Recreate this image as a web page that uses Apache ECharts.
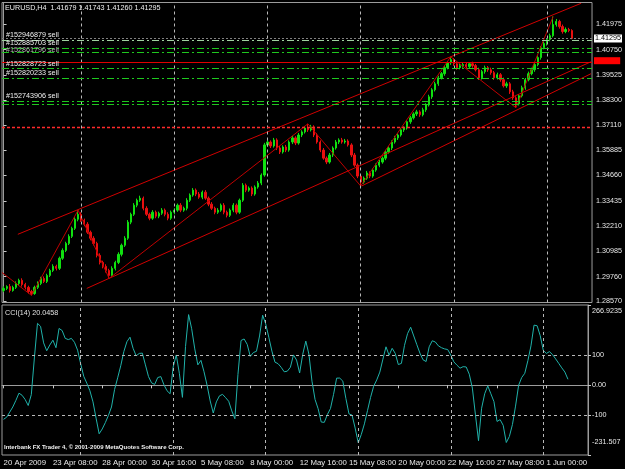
<!DOCTYPE html>
<html>
<head>
<meta charset="utf-8">
<script src="https://cdn.jsdelivr.net/npm/echarts@6/dist/echarts.min.js"></script>
<style>
html, body { margin: 0; padding: 0; background: #000; }
#chart { width: 625px; height: 469px; }
</style>
</head>
<body>
<div id="chart"></div>
<script>
const FONT = "'Liberation Sans', Arial, sans-serif"
const FS = 7.2

// H4 bars, 20 Apr 2009 -> 2 Jun 2009 (slots past the last bar stay empty)
const BAR_COUNT = 190
const LABEL_STEP = 16
const TIME_LABELS = ['20 Apr 2009', '23 Apr 08:00', '28 Apr 00:00', '30 Apr 16:00', '5 May 08:00', '8 May 00:00',
  '12 May 16:00', '15 May 08:00', '20 May 00:00', '22 May 16:00', '27 May 08:00', '1 Jun 00:00']
const GRID_BARS = [25, 55, 85, 115, 145, 175]

const OPEN = [
  1.2909,1.2919,1.2928,1.2909,1.2924,1.2943,1.2958,1.2938,1.2924,1.2904,
  1.2894,1.2924,1.2943,1.2967,1.2953,1.2982,1.3006,1.3026,1.3016,1.3065,
  1.3103,1.3137,1.3171,1.3210,1.3254,1.3278,1.3249,1.3230,1.3191,1.3162,
  1.3137,1.3079,1.3045,1.3026,1.3006,1.2982,1.3016,1.3045,1.3084,1.3128,
  1.3162,1.3240,1.3278,1.3322,1.3346,1.3356,1.3307,1.3278,1.3259,1.3288,
  1.3269,1.3283,1.3298,1.3278,1.3259,1.3288,1.3298,1.3322,1.3298,1.3307,
  1.3346,1.3371,1.3395,1.3376,1.3361,1.3385,1.3356,1.3327,1.3307,1.3288,
  1.3298,1.3322,1.3288,1.3273,1.3298,1.3322,1.3288,1.3346,1.3419,1.3395,
  1.3405,1.3376,1.3410,1.3429,1.3468,1.3614,1.3628,1.3609,1.3638,1.3599,
  1.3580,1.3604,1.3589,1.3628,1.3648,1.3623,1.3662,1.3677,1.3696,1.3687,
  1.3701,1.3662,1.3628,1.3589,1.3550,1.3531,1.3565,1.3599,1.3628,1.3638,
  1.3628,1.3633,1.3614,1.3565,1.3516,1.3463,1.3434,1.3453,1.3478,1.3463,
  1.3492,1.3516,1.3531,1.3550,1.3580,1.3599,1.3628,1.3648,1.3662,1.3687,
  1.3696,1.3726,1.3745,1.3764,1.3774,1.3760,1.3784,1.3808,1.3847,1.3881,
  1.3910,1.3939,1.3959,1.3988,1.4012,1.4027,1.4007,1.3988,1.3998,1.4003,
  1.3993,1.4007,1.3998,1.3978,1.3939,1.3969,1.3988,1.3978,1.3964,1.3939,
  1.3954,1.3930,1.3900,1.3910,1.3871,1.3842,1.3813,1.3852,1.3891,1.3930,
  1.3959,1.3978,1.4003,1.4037,1.4085,1.4105,1.4124,1.4143,1.4197,1.4212,
  1.4187,1.4163,1.4173,1.41679
]
const CLOSE = [
  1.2919,1.2928,1.2909,1.2924,1.2943,1.2958,1.2938,1.2924,1.2904,1.2894,
  1.2924,1.2943,1.2967,1.2953,1.2982,1.3006,1.3026,1.3016,1.3065,1.3103,
  1.3137,1.3171,1.3210,1.3254,1.3278,1.3249,1.3230,1.3191,1.3162,1.3137,
  1.3079,1.3045,1.3026,1.3006,1.2982,1.3016,1.3045,1.3084,1.3128,1.3162,
  1.3240,1.3278,1.3322,1.3346,1.3356,1.3307,1.3278,1.3259,1.3288,1.3269,
  1.3283,1.3298,1.3278,1.3259,1.3288,1.3298,1.3322,1.3298,1.3307,1.3346,
  1.3371,1.3395,1.3376,1.3361,1.3385,1.3356,1.3327,1.3307,1.3288,1.3298,
  1.3322,1.3288,1.3273,1.3298,1.3322,1.3288,1.3346,1.3419,1.3395,1.3405,
  1.3376,1.3410,1.3429,1.3468,1.3614,1.3628,1.3609,1.3638,1.3599,1.3580,
  1.3604,1.3589,1.3628,1.3648,1.3623,1.3662,1.3677,1.3696,1.3687,1.3701,
  1.3662,1.3628,1.3589,1.3550,1.3531,1.3565,1.3599,1.3628,1.3638,1.3628,
  1.3633,1.3614,1.3565,1.3516,1.3463,1.3434,1.3453,1.3478,1.3463,1.3492,
  1.3516,1.3531,1.3550,1.3580,1.3599,1.3628,1.3648,1.3662,1.3687,1.3696,
  1.3726,1.3745,1.3764,1.3774,1.3760,1.3784,1.3808,1.3847,1.3881,1.3910,
  1.3939,1.3959,1.3988,1.4012,1.4027,1.4007,1.3988,1.3998,1.4003,1.3993,
  1.4007,1.3998,1.3978,1.3939,1.3969,1.3988,1.3978,1.3964,1.3939,1.3954,
  1.3930,1.3900,1.3910,1.3871,1.3842,1.3813,1.3852,1.3891,1.3930,1.3959,
  1.3978,1.4003,1.4037,1.4085,1.4105,1.4124,1.4143,1.4197,1.4212,1.4187,
  1.4163,1.4173,1.4168,1.41295
]
const HIGH = [
  1.2929,1.2934,1.2940,1.2932,1.2953,1.2966,1.2968,1.2946,1.2932,1.2912,
  1.2932,1.2953,1.2975,1.2977,1.2990,1.3014,1.3036,1.3034,1.3073,1.3113,
  1.3145,1.3181,1.3218,1.3264,1.3298,1.3288,1.3257,1.3240,1.3199,1.3172,
  1.3145,1.3089,1.3053,1.3036,1.3014,1.3026,1.3053,1.3094,1.3136,1.3172,
  1.3250,1.3286,1.3332,1.3354,1.3368,1.3364,1.3317,1.3286,1.3298,1.3296,
  1.3291,1.3308,1.3306,1.3288,1.3296,1.3308,1.3330,1.3332,1.3315,1.3356,
  1.3379,1.3405,1.3403,1.3386,1.3393,1.3395,1.3364,1.3337,1.3315,1.3308,
  1.3330,1.3332,1.3296,1.3306,1.3332,1.3330,1.3354,1.3429,1.3427,1.3413,
  1.3413,1.3418,1.3439,1.3476,1.3624,1.3638,1.3636,1.3648,1.3646,1.3609,
  1.3612,1.3614,1.3636,1.3658,1.3656,1.3672,1.3685,1.3706,1.3716,1.3711,
  1.3709,1.3672,1.3636,1.3599,1.3558,1.3575,1.3607,1.3638,1.3646,1.3648,
  1.3643,1.3641,1.3622,1.3575,1.3524,1.3471,1.3461,1.3488,1.3486,1.3500,
  1.3524,1.3541,1.3558,1.3590,1.3607,1.3636,1.3658,1.3670,1.3697,1.3704,
  1.3734,1.3755,1.3772,1.3784,1.3782,1.3794,1.3816,1.3857,1.3889,1.3920,
  1.3949,1.3967,1.3998,1.4020,1.4041,1.4035,1.4017,1.4006,1.4013,1.4011,
  1.4015,1.4017,1.4006,1.3988,1.3977,1.3998,1.3996,1.3988,1.3972,1.3964,
  1.3962,1.3940,1.3920,1.3918,1.3881,1.3850,1.3860,1.3901,1.3938,1.3969,
  1.3988,1.4011,1.4047,1.4093,1.4115,1.4132,1.4153,1.4236,1.4224,1.4220,
  1.4197,1.4183,1.4181,1.41743
]
const LOW = [
  1.2901,1.2911,1.2899,1.2903,1.2916,1.2935,1.2928,1.2914,1.2894,1.2885,
  1.2888,1.2916,1.2935,1.2945,1.2945,1.2974,1.2998,1.3006,1.3008,1.3057,
  1.3095,1.3129,1.3163,1.3202,1.3244,1.3241,1.3220,1.3183,1.3152,1.3127,
  1.3069,1.3035,1.3016,1.2996,1.2967,1.2974,1.3006,1.3037,1.3074,1.3120,
  1.3154,1.3230,1.3270,1.3312,1.3338,1.3297,1.3270,1.3249,1.3251,1.3259,
  1.3259,1.3275,1.3268,1.3249,1.3251,1.3278,1.3290,1.3288,1.3290,1.3297,
  1.3338,1.3363,1.3366,1.3353,1.3351,1.3348,1.3317,1.3299,1.3278,1.3280,
  1.3290,1.3278,1.3263,1.3265,1.3288,1.3278,1.3280,1.3338,1.3385,1.3387,
  1.3366,1.3368,1.3402,1.3419,1.3460,1.3604,1.3599,1.3601,1.3589,1.3570,
  1.3572,1.3579,1.3581,1.3618,1.3613,1.3615,1.3652,1.3669,1.3677,1.3679,
  1.3652,1.3620,1.3579,1.3542,1.3521,1.3523,1.3555,1.3591,1.3618,1.3620,
  1.3620,1.3606,1.3555,1.3508,1.3453,1.3415,1.3426,1.3445,1.3453,1.3455,
  1.3484,1.3506,1.3523,1.3540,1.3572,1.3589,1.3620,1.3638,1.3654,1.3677,
  1.3688,1.3716,1.3737,1.3754,1.3750,1.3752,1.3774,1.3800,1.3837,1.3873,
  1.3900,1.3931,1.3949,1.3980,1.4002,1.3997,1.3978,1.3980,1.3988,1.3983,
  1.3985,1.3988,1.3970,1.3929,1.3931,1.3959,1.3968,1.3954,1.3929,1.3931,
  1.3920,1.3892,1.3890,1.3861,1.3832,1.3794,1.3805,1.3844,1.3881,1.3922,
  1.3951,1.3968,1.3995,1.4027,1.4077,1.4095,1.4116,1.4135,1.4187,1.4177,
  1.4153,1.4155,1.4160,1.41260
]

const CCI = [
  -113,-106,-89,-72,-50,-26,-33,-47,-67,-31,
  91,206,196,141,115,134,150,125,189,182,
  156,152,156,143,117,72,30,7,-18,-55,
  -109,-161,-145,-124,-100,-72,-14,25,65,112,
  145,160,123,98,106,107,68,29,8,3,
  26,29,2,-18,-28,61,101,40,-40,129,
  235,188,121,68,83,45,0,-52,-92,-55,
  -35,-30,-41,-53,-85,-111,36,149,154,136,
  96,109,113,164,233,204,160,114,77,72,
  60,45,47,60,101,84,41,103,147,104,
  14,-47,-78,-122,-123,-97,-77,-30,24,24,
  14,-44,-95,-99,-142,-191,-163,-128,-84,-40,
  -3,18,44,87,128,100,123,106,69,73,
  133,172,193,164,135,107,85,79,128,148,
  144,131,125,121,119,101,78,67,57,62,
  61,37,-9,-98,-184,-76,-28,-2,-28,-54,
  -120,-114,-133,-190,-170,-130,-69,0,26,40,
  82,131,200,198,165,116,106,112,102,88,
  73,58,44,20.0458
]

const PRICE_MIN = 1.28507
const PRICE_MAX = 1.43038
const PRICE_TICKS = [1.28570, 1.29760, 1.30985, 1.32210, 1.33435, 1.34660, 1.35885, 1.37110, 1.38300, 1.39525, 1.40750, 1.41975]
const CCI_MIN = -231.507
const CCI_MAX = 266.9235
const CCI_TICKS = [-231.507, -100, 0, 100, 266.9235]
const CCI_TICK_LABELS = ['-231.507', '-100', '0.00', '100', '266.9235']
const CCI_LEVELS = [100, -100]

// order lines drawn on the chart
const ORDER_PRICES = [1.4123, 1.4084, 1.4064, 1.3983, 1.3938, 1.3827, 1.3811]
const ORDER_LABELS = ['#152946879 sell', '#152885703 sell', '#152861796 sell', '#152828723 sell', '#152820233 sell', '#152743906 sell', '']
const LAST_PRICE = 1.41295
const RED_LINE_PRICE = 1.40122
const STOP_LINE_PRICE = 1.3701

// trend lines and zigzag, in (bar, price)
const UPPER_X = [4.6, 186]
const UPPER_Y = [1.3181, 1.4300]
const LOWER_X = [26.8, 189.2]
const LOWER_Y = [1.2919, 1.4017]
const SUPPORT_X = [115.3, 189.2]
const SUPPORT_Y = [1.3415, 1.3959]
const ZIGZAG_X = [-0.5, 9, 24, 34, 98, 115, 144, 165, 177]
const ZIGZAG_Y = [1.2996, 1.2885, 1.3298, 1.2967, 1.3716, 1.3415, 1.4041, 1.3794, 1.4236]

const chart = echarts.init(document.getElementById('chart'))

const cats = Array.from({ length: BAR_COUNT }, (_, i) => i)
const labelAt = (i) => i % LABEL_STEP === 0 && i / LABEL_STEP < TIME_LABELS.length
const gridLine = { color: '#b8b8b8', type: [3, 3], width: 1 }
const orderLine = { color: '#1ec81e', type: [7, 3, 2, 3], width: 1 }

const candleMarks = []
GRID_BARS.forEach(b => candleMarks.push({ xAxis: b, lineStyle: gridLine }))
candleMarks.push({
  yAxis: LAST_PRICE,
  lineStyle: { color: '#808080', type: [2, 2], width: 1 },
  label: {
    show: true, position: 'end', formatter: LAST_PRICE.toFixed(5),
    color: '#000', backgroundColor: '#fff', fontSize: FS, fontFamily: FONT,
    padding: [1, 1, 0, 1], distance: 2
  }
})
ORDER_PRICES.forEach((p, k) => candleMarks.push({
  yAxis: p,
  lineStyle: k === 0 ? { ...orderLine, color: '#9fd09f' } : orderLine,
  label: {
    show: ORDER_LABELS[k] !== '',
    position: 'insideStartTop',
    formatter: ORDER_LABELS[k],
    color: k === 2 ? '#b0b0b0' : '#f0f0f0',
    fontSize: FS,
    fontFamily: FONT,
    distance: k === 2 ? [4, -2] : [4, 1]
  }
}))
candleMarks.push({
  yAxis: STOP_LINE_PRICE,
  lineStyle: { color: '#ff2a2a', type: [3, 2], width: 1.3 }
})
candleMarks.push({
  yAxis: RED_LINE_PRICE,
  lineStyle: { color: '#e00000', type: 'solid', width: 1 },
  label: {
    show: true, position: 'end', formatter: RED_LINE_PRICE.toFixed(5),
    color: '#ff0000', backgroundColor: '#ff0000', fontSize: FS - 0.5, fontFamily: FONT,
    padding: [0, 1, 0, 1], distance: 2, offset: [0, -2]
  }
})

const trend = (xs, ys) => ({
  type: 'line',
  xAxisIndex: 1,
  yAxisIndex: 0,
  data: xs.map((x, k) => [x, ys[k]]),
  symbol: 'none',
  silent: true,
  lineStyle: { color: '#d00000', width: 1 },
  z: 3
})

const option = {
  backgroundColor: '#000',
  animation: false,
  textStyle: { fontFamily: FONT },
  grid: [
    { left: 2, top: 2.5, right: 31, height: 300, show: true, borderColor: '#9c9c9c', borderWidth: 1 },
    { left: 2, top: 305, right: 31, height: 150, show: true, borderColor: '#9c9c9c', borderWidth: 1 }
  ],
  xAxis: [
    {
      type: 'category', gridIndex: 0, data: cats,
      axisLine: { show: false }, axisTick: { show: false }, axisLabel: { show: false }, splitLine: { show: false }
    },
    { type: 'value', gridIndex: 0, min: -0.5, max: BAR_COUNT - 0.5, show: false },
    {
      type: 'category', gridIndex: 1, data: cats,
      axisLine: { show: true, lineStyle: { color: '#9c9c9c' } },
      axisTick: { show: true, interval: labelAt, alignWithLabel: true, length: 3, lineStyle: { color: '#c8c8c8' } },
      axisLabel: {
        show: true, interval: labelAt, formatter: (v, i) => TIME_LABELS[i / LABEL_STEP],
        align: 'left', color: '#e8e8e8', fontSize: 7.8, fontFamily: FONT, margin: 4
      },
      splitLine: { show: false }
    }
  ],
  yAxis: [
    {
      type: 'value', gridIndex: 0, position: 'right', min: PRICE_MIN, max: PRICE_MAX,
      axisLine: { show: true, lineStyle: { color: '#9c9c9c' } },
      axisTick: { show: true, length: 3, customValues: PRICE_TICKS, lineStyle: { color: '#c8c8c8' } },
      axisLabel: {
        customValues: PRICE_TICKS, formatter: v => v.toFixed(5),
        color: '#e8e8e8', fontSize: FS, fontFamily: FONT, margin: 4
      },
      splitLine: { show: false }
    },
    {
      type: 'value', gridIndex: 1, position: 'right', min: CCI_MIN, max: CCI_MAX,
      axisLine: { show: true, lineStyle: { color: '#9c9c9c' } },
      axisTick: { show: true, length: 3, customValues: CCI_TICKS, lineStyle: { color: '#c8c8c8' } },
      axisLabel: {
        customValues: CCI_TICKS,
        formatter: (v) => {
          const k = CCI_TICKS.findIndex(t => Math.abs(t - v) < 1e-6)
          const t = CCI_TICK_LABELS[k]
          if (k === CCI_TICKS.length - 1) return '{top|' + t + '}'
          if (k === 0) return '{bot|' + t + '}'
          return t
        },
        color: '#e8e8e8', fontSize: FS, fontFamily: FONT, margin: 4,
        rich: {
          top: { color: '#e8e8e8', fontSize: FS, fontFamily: FONT, padding: [12, 0, 0, 0] },
          bot: { color: '#e8e8e8', fontSize: FS, fontFamily: FONT, padding: [0, 0, 26, 0] }
        }
      },
      splitLine: { show: false }
    }
  ],
  series: [
    {
      name: 'EURUSD,H4',
      type: 'candlestick',
      xAxisIndex: 0,
      yAxisIndex: 0,
      data: OPEN.map((o, i) => [o, CLOSE[i], LOW[i], HIGH[i]]),
      barWidth: 1.8,
      itemStyle: { color: '#10e010', color0: '#e81010', borderColor: '#10e010', borderColor0: '#e81010', borderWidth: 1 },
      markLine: { symbol: 'none', silent: true, animation: false, precision: 6, label: { show: false }, data: candleMarks }
    },
    trend(UPPER_X, UPPER_Y),
    trend(LOWER_X, LOWER_Y),
    trend(SUPPORT_X, SUPPORT_Y),
    { ...trend(ZIGZAG_X, ZIGZAG_Y), lineStyle: { color: '#c00000', width: 1 } },
    {
      name: 'CCI(14)',
      type: 'line',
      xAxisIndex: 2,
      yAxisIndex: 1,
      data: CCI,
      symbol: 'none',
      lineStyle: { color: '#20b2aa', width: 1 },
      markLine: {
        symbol: 'none', silent: true, animation: false, precision: 6, label: { show: false },
        data: [
          ...GRID_BARS.map(b => ({ xAxis: b, lineStyle: gridLine })),
          ...CCI_LEVELS.map(v => ({ yAxis: v, lineStyle: gridLine }))
        ]
      }
    }
  ],
  graphic: [
    { type: 'text', left: 5, top: 5, style: { text: 'EURUSD,H4  1.41679 1.41743 1.41260 1.41295', fill: '#f0f0f0', font: FS + 'px ' + FONT } },
    { type: 'text', left: 5, top: 310, style: { text: 'CCI(14) 20.0458', fill: '#e0e0e0', font: FS + 'px ' + FONT } },
    { type: 'text', left: 4, top: 444, style: { text: 'Interbank FX Trader 4, © 2001-2009 MetaQuotes Software Corp.', fill: '#f0f0f0', font: 'bold 6px ' + FONT } }
  ]
}

chart.setOption(option)
</script>
</body>
</html>
